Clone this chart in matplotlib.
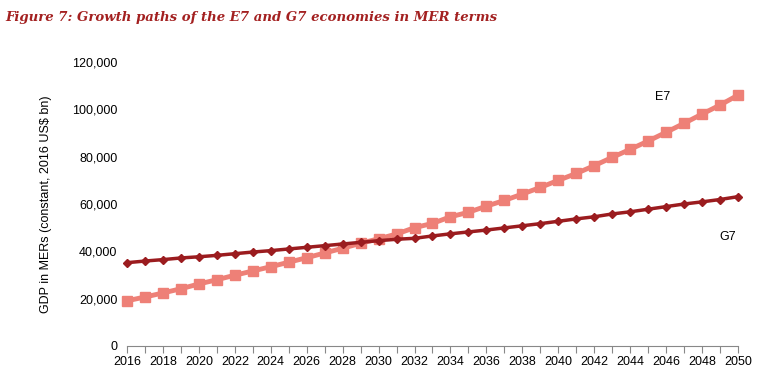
import matplotlib.pyplot as plt

plt.rcParams['font.family'] = ['Liberation Sans', 'DejaVu Sans']

years = list(range(2016, 2051))
e7 = [19.1, 20.7, 22.4, 24.2, 26.2, 28.0, 29.9, 31.7, 33.5, 35.4, 37.3, 39.3,
      41.3, 43.4, 45.3, 47.3, 50.0, 51.8, 54.6, 56.5, 59.1, 61.5, 64.2, 67.0,
      70.0, 72.9, 76.2, 79.7, 83.1, 86.6, 90.3, 94.1, 98.0, 101.8, 106.0]
g7 = [35.2, 35.9, 36.5, 37.2, 37.7, 38.3, 39.0, 39.7, 40.3, 41.0, 41.7, 42.4,
      43.1, 43.8, 44.5, 45.1, 45.5, 46.5, 47.4, 48.2, 49.0, 49.9, 50.8, 51.7,
      52.7, 53.7, 54.6, 55.8, 56.7, 57.8, 58.9, 60.0, 60.9, 61.9, 63.1]
e7 = [v * 1000 for v in e7]
g7 = [v * 1000 for v in g7]
yticks = [0, 20000, 40000, 60000, 80000, 100000, 120000]

fig = plt.figure(figsize=(7.78, 3.82), dpi=100)
ax = fig.add_axes([127/778, 1-346/382, (738-127)/778, (346-62)/382])

ax.plot(years, e7, '-s', color='#EE8077', lw=3.5, ms=7.5, clip_on=False, zorder=3)
ax.plot(years, g7, '-D', color='#9B1C1F', lw=2.5, ms=4.5, clip_on=False, zorder=4)

ax.set_xlim(2016, 2050)
ax.set_ylim(0, 120000)
ax.set_yticks(yticks)
ax.set_yticklabels(['{:,}'.format(v) for v in yticks])
ax.set_xticks(years)
ax.set_xticklabels([str(y) if y % 2 == 0 else '' for y in years])
for s in ['top', 'right', 'left']:
    ax.spines[s].set_visible(False)
ax.spines['bottom'].set_color('#888888')
ax.tick_params(axis='x', direction='out', length=5, color='#888888',
               labelsize=9, pad=2)
ax.tick_params(axis='y', length=0, labelsize=9, pad=7)
ax.set_ylabel('GDP in MERs (constant, 2016 US$ bn)', fontsize=9, labelpad=14)

ax.text(2045.8, 105200, 'E7', fontsize=9, ha='center', va='center')
ax.text(2049.45, 46000, 'G7', fontsize=9, ha='center', va='center')

fig.text(5/778, 1-18/382, 'Figure 7: Growth paths of the E7 and G7 economies in MER terms',
         fontsize=9.5, fontweight='bold', fontstyle='italic', family='DejaVu Serif',
         color='#A32020', va='center')

fig.savefig('out.png')
